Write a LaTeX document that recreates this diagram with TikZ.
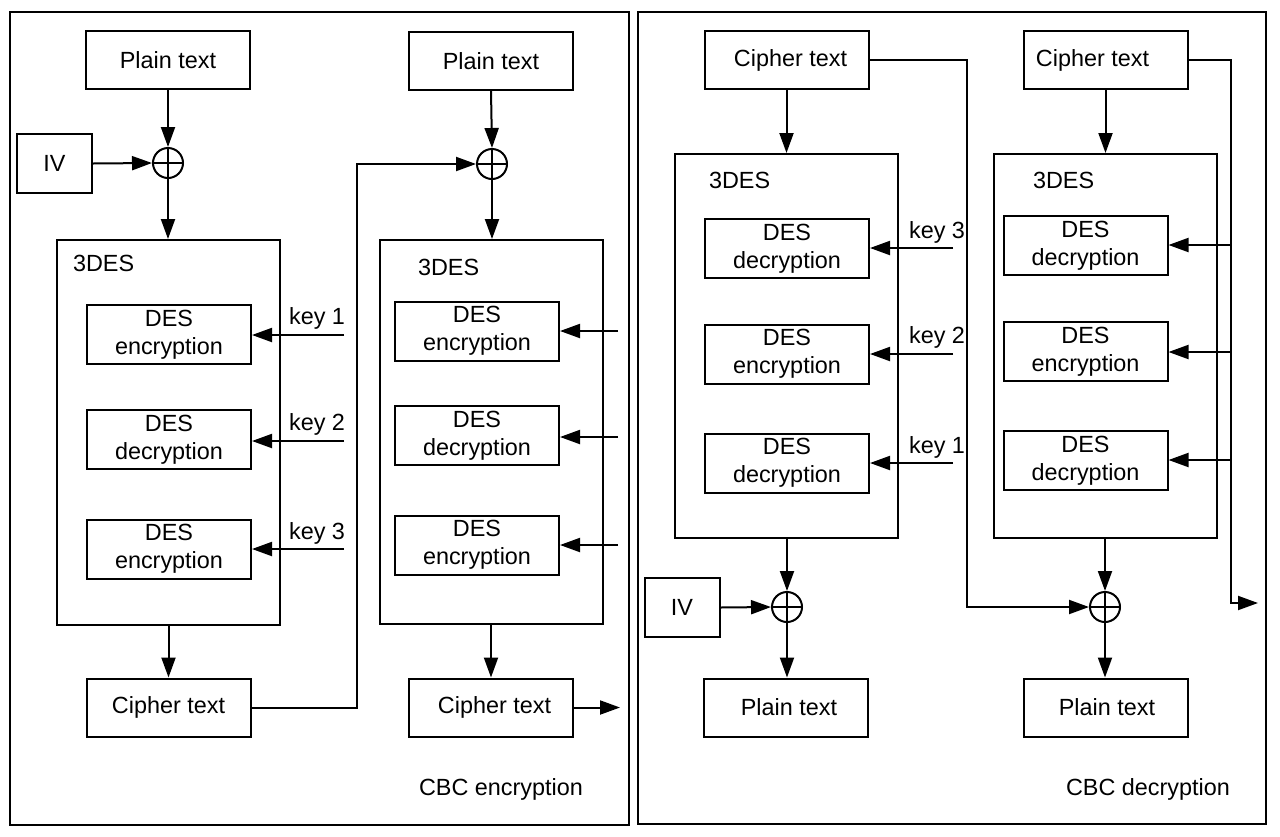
\documentclass[tikz,border=0pt]{standalone}
\usepackage{fontspec}
\setmainfont{Liberation Sans}
\usetikzlibrary{arrows.meta,fit}
\begin{document}
\begin{tikzpicture}[x=0.5pt,y=-0.5pt,
  font=\fontsize{11.7}{14}\selectfont,
  line width=1pt,
  arr/.style={-{Triangle[length=10pt,width=7pt]}},
  blk/.style={draw,inner sep=0pt,minimum width=82pt,minimum height=29.5pt,align=center},
  ivbox/.style={draw,inner sep=0pt,minimum width=37.5pt,minimum height=29.5pt},
  frame/.style={draw,inner sep=0pt},
  lbl/.style={inner sep=0pt,anchor=west},
  keylbl/.style={inner sep=0pt,anchor=east},
  xor/.style={draw,circle,inner sep=0pt,minimum size=15pt,
    path picture={\draw[line width=0.7pt] (path picture bounding box.north) -- (path picture bounding box.south)
      (path picture bounding box.west) -- (path picture bounding box.east);}}
]
\useasboundingbox (0,0) rectangle (1280,836);

% ---------- frames ----------
\node[frame,fit={(10,12)(629,825)}] (frameL) {};
\node[frame,fit={(638,12)(1266,824)}] (frameR) {};

% ---------- encryption, first block ----------
\node[blk,minimum height=29pt] (pt1) at (168,60) {Plain text};
\node[ivbox] (iv1) at (54.5,163.5) {IV};
\node[xor] (x1) at (168,163) {};
\node[frame,fit={(57,240)(280,625)}] (tdes1) {};
\node[lbl] (tl1) at (72,263) {3DES};
\node[blk] (d11) at (169,334.5) {DES\\encryption};
\node[blk] (d12) at (169,439.5) {DES\\decryption};
\node[blk] (d13) at (169,549) {DES\\encryption};
\coordinate (k11) at (344,335);
\coordinate (k12) at (344,441);
\coordinate (k13) at (344,549);
\node[keylbl] (kl11) at (346,318) {key 1};
\node[keylbl] (kl12) at (346,424) {key 2};
\node[keylbl] (kl13) at (346,533) {key 3};
\node[blk,minimum height=29pt] (ct1) at (168.5,707.5) {Cipher text};

\draw[arr] (pt1.south) -- (x1.north);
\draw[arr] (iv1.east) -- (x1.west);
\draw[arr] (x1.south) -- (x1.south |- tdes1.north);
\draw[arr] (k11) -- (k11 -| d11.east);
\draw[arr] (k12) -- (k12 -| d12.east);
\draw[arr] (k13) -- (k13 -| d13.east);
\draw[arr] (tdes1.south -| ct1.north) -- (ct1.north);

% ---------- encryption, second block ----------
\node[blk,minimum height=29pt] (pt2) at (491,61) {Plain text};
\node[xor] (x2) at (492,164) {};
\node[frame,fit={(380,240)(603,624)}] (tdes2) {};
\node[lbl] (tl2) at (417,267) {3DES};
\node[blk] (d21) at (477,331) {DES\\encryption};
\node[blk] (d22) at (477,435.5) {DES\\decryption};
\node[blk] (d23) at (477,545) {DES\\encryption};
\coordinate (k21) at (618,331);
\coordinate (k22) at (618,437);
\coordinate (k23) at (618,545);
\node[blk,minimum height=29pt] (ct2) at (491,707.5) {\hspace*{3.5pt}Cipher text};
\coordinate (out1) at (620,707.5);
\coordinate (turn1) at (357,164);
\node[lbl] (cbce) at (418,789) {CBC encryption};

\draw[arr] (ct1.east) -| (turn1) -- (x2.west);
\draw[arr] (pt2.south) -- (x2.north);
\draw[arr] (x2.south) -- (x2.south |- tdes2.north);
\draw[arr] (k21) -- (k21 -| d21.east);
\draw[arr] (k22) -- (k22 -| d22.east);
\draw[arr] (k23) -- (k23 -| d23.east);
\draw[arr] (tdes2.south -| ct2.north) -- (ct2.north);
\draw[arr] (ct2.east) -- (out1);

% ---------- decryption, first block ----------
\node[blk,minimum height=29pt] (ctR1) at (786.5,60) {\hspace*{4pt}Cipher text};
\node[frame,fit={(675,154)(898,538)}] (tdesR1) {};
\node[lbl] (tlR1) at (708,180) {3DES};
\node[blk] (dR11) at (787,248.5) {DES\\decryption};
\node[blk] (dR12) at (787,354) {DES\\encryption};
\node[blk] (dR13) at (787,463) {DES\\decryption};
\coordinate (kR11) at (953,248);
\coordinate (kR12) at (953,354);
\coordinate (kR13) at (953,463);
\node[keylbl] (klR11) at (966,232) {key 3};
\node[keylbl] (klR12) at (966,337) {key 2};
\node[keylbl] (klR13) at (966,447) {key 1};
\node[xor] (xR1) at (787,607) {};
\node[ivbox] (ivR) at (682,607.5) {IV};
\node[blk,minimum height=29pt] (ptR1) at (786,707.5) {\hspace*{3pt}Plain text};
\coordinate (turnR) at (967,607);

\draw[arr] (ctR1.south -| tdesR1.north) -- (tdesR1.north);
\draw[arr] (kR11) -- (kR11 -| dR11.east);
\draw[arr] (kR12) -- (kR12 -| dR12.east);
\draw[arr] (kR13) -- (kR13 -| dR13.east);
\draw[arr] (tdesR1.south -| xR1.north) -- (xR1.north);
\draw[arr] (ivR.east) -- (xR1.west);
\draw[arr] (xR1.south) -- (xR1.south |- ptR1.north);

% ---------- decryption, second block ----------
\node[blk,minimum height=29pt] (ctR2) at (1105.5,60) {Cipher text\hspace*{13pt}};
\node[frame,fit={(994,154)(1217,538)}] (tdesR2) {};
\node[lbl] (tlR2) at (1032,180) {3DES};
\node[blk] (dR21) at (1085.5,245.5) {DES\\decryption};
\node[blk] (dR22) at (1085.5,351.5) {DES\\encryption};
\node[blk] (dR23) at (1085.5,460.5) {DES\\decryption};
\coordinate (kR21) at (1231,245);
\coordinate (kR22) at (1231,352);
\coordinate (kR23) at (1231,460);
\node[xor] (xR2) at (1105,607) {};
\node[blk,minimum height=29pt] (ptR2) at (1105.5,707.5) {\hspace*{1.5pt}Plain text};
\coordinate (turnR2) at (1231,603);
\coordinate (outR) at (1258,603);
\node[lbl] (cbcd) at (1065,789) {CBC decryption};

\draw[arr] (ctR1.east) -| (turnR) -- (xR2.west);
\draw[arr] (ctR2.south -| tdesR2.north) -- (tdesR2.north);
\draw[arr] (ctR2.east) -| (turnR2) -- (outR);
\draw[arr] (kR21) -- (kR21 -| dR21.east);
\draw[arr] (kR22) -- (kR22 -| dR22.east);
\draw[arr] (kR23) -- (kR23 -| dR23.east);
\draw[arr] (tdesR2.south -| xR2.north) -- (xR2.north);
\draw[arr] (xR2.south) -- (xR2.south |- ptR2.north);
\end{tikzpicture}
\end{document}
